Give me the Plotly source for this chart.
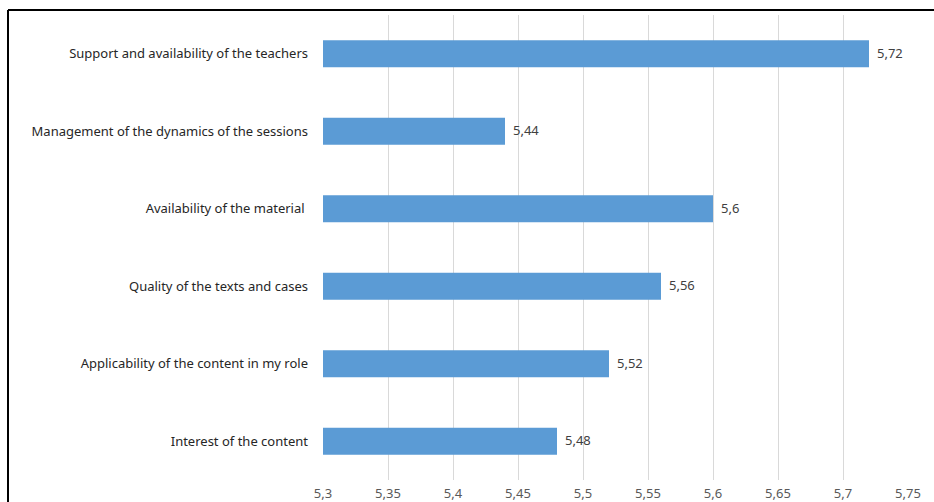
import plotly.graph_objects as go

categories = [
    "Support and availability of the teachers",
    "Management of the dynamics of the sessions",
    "Availability of the material ",
    "Quality of the texts and cases",
    "Applicability of the content in my role",
    "Interest of the content",
]
values = [5.72, 5.44, 5.6, 5.56, 5.52, 5.48]
tick_vals = [5.3, 5.35, 5.4, 5.45, 5.5, 5.55, 5.6, 5.65, 5.7, 5.75]
tick_text = ["5,3", "5,35", "5,4", "5,45", "5,5", "5,55", "5,6", "5,65", "5,7", "5,75"]
value_labels = [f"{v:g}".replace(".", ",") for v in values]

W, H = 934, 502
L, R, T, B = 323, 26, 15, 22
pw, ph = W - L - R, H - T - B

fig = go.Figure()
fig.add_trace(go.Bar(
    y=categories, x=[v - 5.3 for v in values], base=5.3, orientation="h",
    marker=dict(color="#5B9BD5", line=dict(width=0)),
    width=0.35, hoverinfo="skip",
))
for c, v, t in zip(categories, values, value_labels):
    fig.add_annotation(x=v, y=c, text=t, showarrow=False, xanchor="left",
                       xshift=6, yshift=1,
                       font=dict(family="Noto Sans", size=13, color="#404040"))

def px_x(p):
    return (p - L) / pw

def px_y(p):
    return 1 - (p - T) / ph

fig.add_shape(type="line", xref="paper", yref="paper", x0=px_x(8), x1=px_x(940),
              y0=px_y(10), y1=px_y(10), line=dict(color="black", width=2))
fig.add_shape(type="line", xref="paper", yref="paper", x0=px_x(8), x1=px_x(8),
              y0=px_y(10), y1=px_y(510), line=dict(color="black", width=2))

fig.update_layout(
    width=W, height=H, margin=dict(l=L, r=R, t=T, b=B, autoexpand=False),
    paper_bgcolor="white", plot_bgcolor="white", showlegend=False,
    separators=",.",
    font=dict(family="Noto Sans", size=13, color="#404040"),
    xaxis=dict(range=[5.3, 5.75], tickvals=tick_vals, ticktext=tick_text,
               showgrid=True, gridcolor="#D9D9D9", gridwidth=1, zeroline=False,
               showline=False, ticks="", automargin=False, ticklabelstandoff=4,
               tickfont=dict(size=13, color="#595959")),
    yaxis=dict(autorange="reversed", showgrid=False, zeroline=False, showline=False,
               ticks="", ticklabelstandoff=14, automargin=False,
               tickfont=dict(size=13, color="#262626")),
)
fig.write_html("out.html")
